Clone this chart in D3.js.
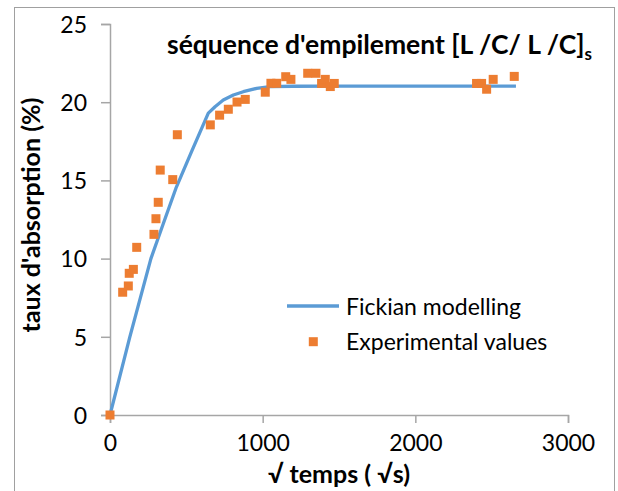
<!DOCTYPE html>
<html><head><meta charset="utf-8">
<script src="https://cdn.jsdelivr.net/npm/d3@7"></script>
<style>body{margin:0;background:#fff;} text{font-family:Lato,"Open Sans",sans-serif;}</style>
</head><body>
<svg id="c" width="618" height="491"></svg>
<script>
// Experimental values (√s, %)
const expX = [0, 83, 120, 126, 153, 175, 288, 301, 316, 329, 411, 441, 657, 718, 775, 832, 886, 1017, 1054, 1092, 1151, 1185, 1295, 1349, 1386, 1410, 1443, 1469, 2401, 2434, 2467, 2510, 2648];
const expY = [0, 7.85, 8.25, 9.06, 9.31, 10.72, 11.55, 12.55, 13.6, 15.66, 15.05, 17.92, 18.55, 19.17, 19.55, 20.01, 20.18, 20.64, 21.21, 21.21, 21.63, 21.46, 21.85, 21.85, 21.2, 21.46, 21.0, 21.2, 21.2, 21.2, 20.83, 21.46, 21.65];
// Fickian modelling curve
const fickX = [0, 130, 268, 350, 432, 537, 644, 688, 742, 808, 873, 961, 1048, 1200, 1500, 2000, 2659];
const fickY = [0, 5, 10, 12.26, 14.5, 16.9, 19.3, 19.71, 20.14, 20.46, 20.67, 20.89, 21.0, 21.02, 21.03, 21.03, 21.03];
const xTicks = [0, 1000, 2000, 3000];
const yTicks = [0, 5, 10, 15, 20, 25];
const seriesNames = ["Fickian modelling", "Experimental values"];

const svg = d3.select("#c");
const blue = "#5B9BD5", orange = "#ED7D31", axisCol = "#A6A6A6";

svg.append("rect").attr("x", 14.5).attr("y", 7.5).attr("width", 600).attr("height", 500)
  .attr("fill", "#fff").attr("stroke", "#A0A0A0").attr("stroke-width", 1);

const x = d3.scaleLinear().domain([0, 3000]).range([110, 568]);
const y = d3.scaleLinear().domain([0, 25]).range([415, 24]);

const xAxis = svg.append("g").attr("transform", "translate(0,415)")
  .call(d3.axisBottom(x).tickValues(xTicks).tickSize(8).tickPadding(12).tickFormat(d3.format("d")));
const yAxis = svg.append("g").attr("transform", "translate(110,0)")
  .call(d3.axisLeft(y).tickValues(yTicks).tickSize(9).tickPadding(14).tickFormat(d3.format("d")));
[xAxis, yAxis].forEach(g => {
  g.select(".domain").attr("stroke", axisCol).attr("stroke-width", 1.5);
  g.selectAll(".tick line").attr("stroke", axisCol).attr("stroke-width", 1.5);
  g.selectAll(".tick text").attr("fill", "#000").style("font-size", "23px").style("font-family", "Lato");
});
xAxis.selectAll(".tick text").attr("dy", "0.71em");
yAxis.selectAll(".tick text").attr("dy", "0.36em");

const line = d3.line().x(d => x(d[0])).y(d => y(d[1]));
svg.append("path").datum(fickX.map((v, i) => [v, fickY[i]]))
  .attr("d", line).attr("fill", "none").attr("stroke", blue).attr("stroke-width", 3.3).attr("stroke-linejoin", "round");

const s = 9;
svg.append("g").selectAll("rect").data(expX.map((v, i) => [v, expY[i]])).join("rect")
  .attr("x", d => x(d[0]) - s / 2).attr("y", d => y(d[1]) - s / 2)
  .attr("width", s).attr("height", s).attr("fill", orange);

// Title
const t = svg.append("text").attr("x", 167).attr("y", 54).attr("font-weight", "bold")
  .style("font-size", "26.5px").attr("fill", "#000");
t.append("tspan").text("séquence d'empilement [L /C/ L /C]");
t.append("tspan").text("s").attr("dy", 6).style("font-size", "17px");

// Axis titles
svg.append("text").attr("x", 339).attr("y", 483).attr("text-anchor", "middle")
  .attr("font-weight", "bold").style("font-size", "25px").text("√ temps ( √s)");
svg.append("text").attr("transform", "translate(40,215) rotate(-90)").attr("text-anchor", "middle")
  .attr("font-weight", "bold").style("font-size", "25px").text("taux d'absorption (%)");

// Legend
const lg = svg.append("g");
lg.append("line").attr("x1", 287).attr("x2", 339).attr("y1", 306).attr("y2", 306)
  .attr("stroke", blue).attr("stroke-width", 3.3);
lg.append("rect").attr("x", 313.3 - 4.5).attr("y", 341.7 - 4.5).attr("width", 9).attr("height", 9).attr("fill", orange);
lg.append("text").attr("x", 346).attr("y", 315).style("font-size", "23px").text(seriesNames[0]);
lg.append("text").attr("x", 346).attr("y", 350).style("font-size", "23px").text(seriesNames[1]);
</script>
</body></html>
